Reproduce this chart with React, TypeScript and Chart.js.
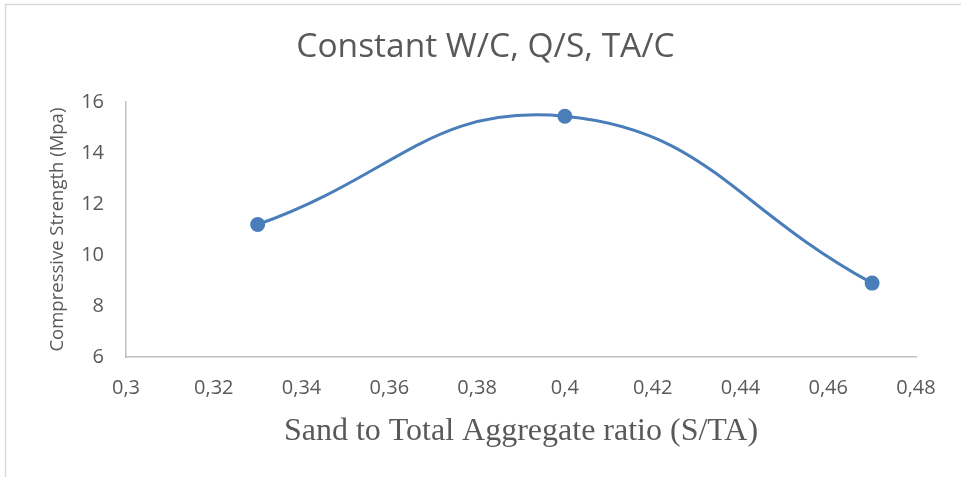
import React, { useEffect, useRef } from "react";
import { Chart, registerables } from "chart.js";

Chart.register(...registerables);

const chartTitle = "Constant W/C, Q/S, TA/C";
const xAxisTitle = "Sand to Total Aggregate ratio (S/TA)";
const yAxisTitle = "Compressive Strength (Mpa)";
const sandRatio = [0.33, 0.4, 0.47];
const strength = [11.2, 15.45, 8.9];
const xTicks = [0.3, 0.32, 0.34, 0.36, 0.38, 0.4, 0.42, 0.44, 0.46, 0.48];
const yTicks = [6, 8, 10, 12, 14, 16];

const fmt = (v: number) => String(Math.round(v * 100) / 100).replace(".", ",");

const frame = {
  id: "frame",
  beforeDraw(chart: any) {
    const { ctx, width, height } = chart;
    ctx.save();
    ctx.fillStyle = "#ffffff";
    ctx.fillRect(0, 0, width, height);
    ctx.strokeStyle = "#d9d9d9";
    ctx.lineWidth = 1.5;
    ctx.beginPath();
    ctx.moveTo(5.5, height);
    ctx.lineTo(5.5, 4.5);
    ctx.lineTo(width, 4.5);
    ctx.stroke();
    ctx.restore();
  },
};

export default function App() {
  const ref = useRef<HTMLCanvasElement>(null);
  useEffect(() => {
    document.body.style.margin = "0";
    const chart = new Chart(ref.current!, {
      type: "line",
      data: {
        datasets: [
          {
            data: sandRatio.map((x, i) => ({ x, y: strength[i] })),
            borderColor: "#4a7ebb",
            backgroundColor: "#4a7ebb",
            borderWidth: 3,
            pointRadius: 7.5,
            pointBorderWidth: 0,
            tension: 0.45,
            fill: false,
          },
        ],
      },
      plugins: [frame],
      options: {
        animation: false,
        responsive: false,
        layout: { padding: { left: 10, right: 0, top: 0, bottom: 0 } },
        plugins: {
          legend: { display: false },
          tooltip: { enabled: false },
          title: {
            display: true,
            text: chartTitle,
            color: "#595959",
            font: { family: "Open Sans", size: 33.5, weight: "normal" },
            padding: { top: 27, bottom: 35 },
          },
        },
        scales: {
          x: {
            type: "linear",
            min: 0.3,
            max: 0.48,
            afterBuildTicks: (s: any) => {
              s.ticks = xTicks.map((v) => ({ value: v }));
            },
            afterFit: (s: any) => {
              s.height = 120;
            },
            grid: { display: false, drawTicks: false, tickLength: 0 },
            border: { display: true, color: "#bfbfbf", width: 1.5 },
            ticks: {
              color: "#595959",
              font: { family: "Open Sans", size: 20 },
              padding: 19,
              maxRotation: 0,
              autoSkip: false,
              callback: (v: any) => fmt(Number(v)),
            },
            title: {
              display: true,
              text: xAxisTitle,
              color: "#595959",
              font: { family: "Liberation Serif", size: 32 },
              padding: { top: 0, bottom: 26 },
            },
          },
          y: {
            type: "linear",
            min: 6,
            max: 16,
            afterBuildTicks: (s: any) => {
              s.ticks = yTicks.map((v) => ({ value: v }));
            },
            afterFit: (s: any) => {
              s.width = 116;
            },
            grid: { display: false, drawTicks: false, tickLength: 0 },
            border: { display: true, color: "#bfbfbf", width: 1.5 },
            ticks: {
              color: "#595959",
              font: { family: "Open Sans", size: 20 },
              padding: 22,
              callback: (v: any) => String(v),
            },
            title: {
              display: true,
              text: yAxisTitle,
              color: "#595959",
              font: { family: "Open Sans", size: 18.5 },
              padding: { top: 37, bottom: 0 },
            },
          },
          yRight: {
            type: "linear",
            position: "right",
            display: true,
            min: 6,
            max: 16,
            afterFit: (s: any) => {
              s.width = 45;
            },
            grid: { display: false, drawTicks: false },
            border: { display: false },
            ticks: { display: false },
          },
        },
      },
    } as any);
    return () => chart.destroy();
  }, []);
  return (
    <div style={{ width: 961, height: 477 }}>
      <canvas ref={ref} width={961} height={477} style={{ display: "block" }} />
    </div>
  );
}
